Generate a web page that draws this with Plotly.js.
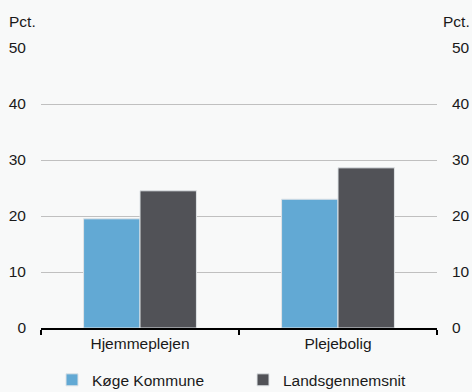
<!DOCTYPE html>
<html>
<head>
<meta charset="utf-8">
<script src="https://cdn.plot.ly/plotly-3.0.1.min.js"></script>
<style>html,body{margin:0;padding:0;background:#f8f9f9;}#chart{width:472px;height:392px;}</style>
</head>
<body>
<div id="chart"></div>
<script>
var categories = ["Hjemmeplejen", "Plejebolig"];
var koegeValues = [19.5, 23.0];
var landsValues = [24.5, 28.6];
var seriesNames = ["Køge Kommune", "Landsgennemsnit"];
var yTicks = [0, 10, 20, 30, 40, 50];

var font = {family: "Liberation Sans, Arial, sans-serif", size: 15.5, color: "#1a1a1a"};
var traces = [
  {type: "bar", x: categories, y: koegeValues, name: seriesNames[0], legend: "legend",
   marker: {color: "#62a9d4", line: {color: "#dfe3e6", width: 1}}},
  {type: "bar", x: categories, y: landsValues, name: seriesNames[1], legend: "legend2",
   marker: {color: "#515257", line: {color: "#dfe3e6", width: 1}}},
  {type: "scatter", x: categories, y: [null, null], yaxis: "y2", showlegend: false, hoverinfo: "skip"}
];
var legendBase = {orientation: "h", xref: "container", yref: "container", xanchor: "left",
  y: 0.03, yanchor: "middle", itemwidth: 30, font: font, bgcolor: "rgba(0,0,0,0)"};
var layout = {
  width: 472, height: 392,
  margin: {l: 41, r: 35, t: 48, b: 64},
  paper_bgcolor: "#f8f9f9", plot_bgcolor: "#f8f9f9",
  font: font,
  barmode: "group", bargap: 0.43, bargroupgap: 0,
  showlegend: true,
  legend: Object.assign({}, legendBase, {x: 52 / 472}),
  legend2: Object.assign({}, legendBase, {x: 243 / 472}),
  xaxis: {type: "category", tickson: "boundaries", ticks: "outside", ticklen: 5,
          tickcolor: "#000", tickwidth: 2, showline: true, linecolor: "#000", linewidth: 2,
          showgrid: false, zeroline: false, tickfont: font, fixedrange: true},
  yaxis: {range: [0, 50], tickvals: yTicks, ticks: "", showline: false,
          gridcolor: "#c0c0c0", gridwidth: 1, zeroline: false, tickfont: font,
          ticklabelstandoff: 14, fixedrange: true},
  yaxis2: {range: [0, 50], tickvals: yTicks, overlaying: "y", side: "right",
           showgrid: false, zeroline: false, showline: false, ticks: "", tickfont: font,
           ticklabelstandoff: 14, fixedrange: true},
  annotations: [
    {text: "Pct.", xref: "paper", yref: "paper", x: -0.085, y: 1.095, xanchor: "left", yanchor: "middle", showarrow: false, font: font},
    {text: "Pct.", xref: "paper", yref: "paper", x: 1.088, y: 1.095, xanchor: "right", yanchor: "middle", showarrow: false, font: font}
  ]
};
Plotly.newPlot("chart", traces, layout, {displayModeBar: false, staticPlot: true});
</script>
</body>
</html>
